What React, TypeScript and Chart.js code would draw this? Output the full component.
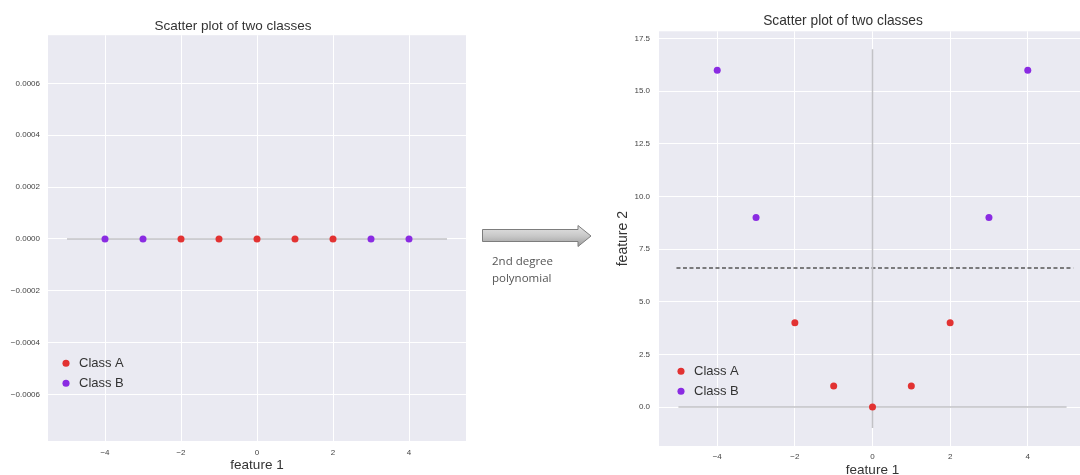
import React, { useEffect, useRef } from "react";
import Chart from "chart.js/auto";

// ---------- data ----------
const chartTitle = "Scatter plot of two classes";
const xAxisLabel = "feature 1";
const yAxisLabelRight = "feature 2";
const classLabels = ["Class A", "Class B"];

const classAX = [-2, -1, 0, 1, 2];
const classBX = [-4, -3, 3, 4];
const classALeftY = [0, 0, 0, 0, 0];
const classBLeftY = [0, 0, 0, 0];
const classARightY = [4, 1, 0, 1, 4];
const classBRightY = [16, 9, 9, 16];

const leftXTicks = [-4, -2, 0, 2, 4];
const leftYTicks = [-0.0006, -0.0004, -0.0002, 0, 0.0002, 0.0004, 0.0006];
const rightXTicks = [-4, -2, 0, 2, 4];
const rightYTicks = [0, 2.5, 5, 7.5, 10, 12.5, 15, 17.5];

const leftXRange = [-5.5, 5.5];
const leftYRange = [-0.00078, 0.000786];
const rightXRange = [-5.5, 5.5];
const rightYRange = [-1.85, 17.85];

const baselineX = [-5, 5]; // y = 0 guide line
const verticalGuideY = [-1, 17]; // x = 0 guide line (right)
const thresholdY = 6.6;
const thresholdX = [-5.05, 5.17];
const arrowCaption = ["2nd degree", "polynomial"];

// ---------- styles ----------
const FONT = "'Liberation Sans', Arial, sans-serif";
const RED = "#e23232";
const PURPLE = "#8a2be2";
const GUIDE = "#c2c2c6";
const PLOT_BG = "#eaeaf2";
const TEXT = "#333333";
const TICK = "#444444";

const minus = (s: string) => s.replace("-", "\u2212");

const bgPlugin = {
  id: "plotBg",
  beforeDraw(chart: any) {
    const { ctx, chartArea } = chart;
    if (!chartArea) return;
    ctx.save();
    ctx.fillStyle = PLOT_BG;
    ctx.fillRect(chartArea.left, chartArea.top, chartArea.right - chartArea.left, chartArea.bottom - chartArea.top);
    ctx.restore();
  },
};

const legendPlacer = {
  id: "legendPlacer",
  afterLayout(chart: any, _args: any, opts: any) {
    const lg = chart.legend;
    if (!lg) return;
    const ca = chart.chartArea;
    lg.left = ca.left + opts.dx;
    lg.top = ca.top + opts.dy;
    lg.width = 160;
    lg.height = 60;
    lg.right = lg.left + 160;
    lg.bottom = lg.top + 60;
  },
};

const pts = (xs: number[], ys: number[]) => xs.map((x, i) => ({ x, y: ys[i] }));

function pointDataset(label: string, data: any[], color: string) {
  return {
    label,
    data,
    backgroundColor: color,
    borderColor: color,
    borderWidth: 0,
    pointRadius: 3.5,
    pointHoverRadius: 3.5,
    order: 0,
  };
}

function guideDataset(data: any[], color: string, width: number, dash: number[] = []) {
  return {
    label: "guide",
    data,
    showLine: true,
    borderColor: color,
    backgroundColor: color,
    borderWidth: width,
    borderDash: dash,
    pointRadius: 0,
    pointHoverRadius: 0,
    order: 5,
  };
}

function tickScale(range: number[], ticks: number[], fmt: (v: number) => string, padding: number, extra: any = {}) {
  return {
    type: "linear",
    min: range[0],
    max: range[1],
    afterBuildTicks: (s: any) => {
      s.ticks = ticks.map((v) => ({ value: v }));
    },
    grid: { color: "#ffffff", lineWidth: 1, drawTicks: false },
    border: { display: false },
    ticks: {
      font: { family: FONT, size: 8 },
      color: TICK,
      padding,
      callback: (v: any) => fmt(Number(v)),
    },
    ...extra,
  };
}

function buildLeft(): any {
  return {
    type: "scatter",
    data: {
      datasets: [
        pointDataset(classLabels[0], pts(classAX, classALeftY), RED),
        pointDataset(classLabels[1], pts(classBX, classBLeftY), PURPLE),
        guideDataset(pts(baselineX, [0, 0]), GUIDE, 1.5),
      ],
    },
    options: {
      responsive: false,
      animation: false,
      layout: { padding: { left: 0, right: 14, top: 0, bottom: 0 } },
      scales: {
        x: tickScale(leftXRange, leftXTicks, (v) => minus(String(v)), 7, {
          afterFit: (s: any) => {
            s.height = 34;
          },
          title: {
            display: true,
            text: xAxisLabel,
            font: { family: FONT, size: 13.5 },
            color: TEXT,
            padding: { top: 0, bottom: 2 },
          },
        }),
        y: tickScale(leftYRange, leftYTicks, (v) => minus(v.toFixed(4)), 8, {
          afterFit: (s: any) => {
            s.width = 48;
          },
        }),
      },
      plugins: {
        title: {
          display: true,
          text: chartTitle,
          font: { family: FONT, size: 13.5, weight: "normal" },
          color: TEXT,
          padding: { top: 18, bottom: 1 },
        },
        legend: {
          position: "chartArea",
          align: "start",
          labels: {
            filter: (item: any) => item.datasetIndex < 2,
            usePointStyle: true,
            pointStyle: "circle",
            boxHeight: 5,
            boxWidth: 13,
            padding: 7,
            color: TEXT,
            font: { family: FONT, size: 13 },
          },
        },
        legendPlacer: { dx: 4.5, dy: 314.5 },
        tooltip: { enabled: false },
      },
    },
    plugins: [bgPlugin, legendPlacer],
  };
}

function buildRight(): any {
  return {
    type: "scatter",
    data: {
      datasets: [
        pointDataset(classLabels[0], pts(classAX, classARightY), RED),
        pointDataset(classLabels[1], pts(classBX, classBRightY), PURPLE),
        guideDataset(pts(baselineX, [0, 0]), GUIDE, 1.5),
        guideDataset(pts([0, 0], verticalGuideY), GUIDE, 1.5),
        guideDataset(pts(thresholdX, [thresholdY, thresholdY]), "#555555", 1.5, [4, 2.5]),
      ],
    },
    options: {
      responsive: false,
      animation: false,
      layout: { padding: { left: 0, right: 14, top: 0, bottom: 0 } },
      scales: {
        x: tickScale(rightXRange, rightXTicks, (v) => minus(String(v)), 6, {
          afterFit: (s: any) => {
            s.height = 44;
          },
          title: {
            display: true,
            text: xAxisLabel,
            font: { family: FONT, size: 13.5 },
            color: TEXT,
            padding: { top: 0, bottom: 12 },
          },
        }),
        y: tickScale(rightYRange, rightYTicks, (v) => v.toFixed(1), 9, {
          afterFit: (s: any) => {
            s.width = 59;
          },
          title: {
            display: true,
            text: yAxisLabelRight,
            font: { family: FONT, size: 14 },
            color: TEXT,
            padding: { top: 14.6, bottom: 0 },
          },
        }),
      },
      plugins: {
        title: {
          display: true,
          text: chartTitle,
          font: { family: FONT, size: 13.75, weight: "normal" },
          color: TEXT,
          padding: { top: 13, bottom: 1.8 },
        },
        legend: {
          position: "chartArea",
          align: "start",
          labels: {
            filter: (item: any) => item.datasetIndex < 2,
            usePointStyle: true,
            pointStyle: "circle",
            boxHeight: 5,
            boxWidth: 13,
            padding: 7,
            color: TEXT,
            font: { family: FONT, size: 13 },
          },
        },
        legendPlacer: { dx: 8.5, dy: 326.5 },
        tooltip: { enabled: false },
      },
    },
    plugins: [bgPlugin, legendPlacer],
  };
}

function ChartCanvas({ build, width, height, left }: { build: () => any; width: number; height: number; left: number }) {
  const ref = useRef<HTMLCanvasElement | null>(null);
  useEffect(() => {
    if (!ref.current) return;
    const chart = new Chart(ref.current, build());
    return () => chart.destroy();
  }, [build]);
  return (
    <canvas
      ref={ref}
      width={width}
      height={height}
      style={{ position: "absolute", left, top: 0, width, height, display: "block" }}
    />
  );
}

export default function App() {
  return (
    <div
      style={{
        position: "absolute",
        left: 0,
        top: 0,
        width: 1080,
        height: 475,
        overflow: "hidden",
        background: "#ffffff",
      }}
    >
      <ChartCanvas build={buildLeft} width={480} height={475} left={0} />
      <ChartCanvas build={buildRight} width={500} height={490} left={600} />
      <svg
        width={120}
        height={40}
        style={{ position: "absolute", left: 476, top: 218 }}
        viewBox="476 218 120 40"
      >
        <defs>
          <linearGradient id="arrowGrad" x1="0" y1="0" x2="0" y2="1">
            <stop offset="0" stopColor="#e4e4e4" />
            <stop offset="0.5" stopColor="#c8c8c8" />
            <stop offset="1" stopColor="#9c9c9c" />
          </linearGradient>
        </defs>
        <polygon
          points="482.5,229.5 578,229.5 578,225.5 591,236 578,246.5 578,241.5 482.5,241.5"
          fill="url(#arrowGrad)"
          stroke="#7d7d7d"
          strokeWidth={1}
        />
      </svg>
      <div
        style={{
          position: "absolute",
          left: 492,
          top: 252,
          fontFamily: "'Open Sans', 'Noto Sans', sans-serif",
          fontSize: 11.5,
          lineHeight: "17px",
          color: "#555555",
        }}
      >
        {arrowCaption.map((t) => (
          <div key={t}>{t}</div>
        ))}
      </div>
    </div>
  );
}
